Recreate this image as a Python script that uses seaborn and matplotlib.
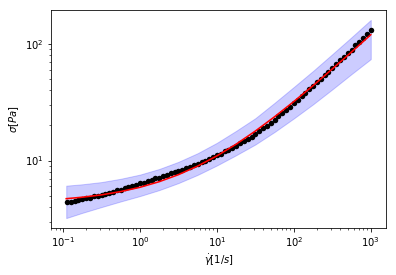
import numpy as np
import pandas as pd
import matplotlib
matplotlib.use("Agg")
import matplotlib.pyplot as plt
import seaborn as sns

# measured shear rates (log-spaced grid) and stresses
shear_rate = np.logspace(-0.95, 3.0, 80)
stress = [
    4.37, 4.41, 4.51, 4.60, 4.64, 4.75, 4.80, 4.93, 4.98, 5.10,
    5.17, 5.31, 5.39, 5.56, 5.64, 5.79, 5.90, 6.09, 6.20, 6.36,
    6.48, 6.69, 6.81, 7.02, 7.14, 7.36, 7.51, 7.75, 7.92, 8.14,
    8.33, 8.63, 8.84, 9.15, 9.35, 9.70, 9.97, 10.39, 10.66, 11.07,
    11.45, 11.98, 12.36, 12.92, 13.36, 14.08, 14.65, 15.43, 16.06, 16.93,
    17.80, 18.95, 19.93, 21.21, 22.30, 23.98, 25.38, 27.28, 28.85, 31.05,
    32.96, 35.65, 37.85, 40.95, 43.45, 47.10, 50.10, 54.35, 57.80, 62.70,
    66.80, 72.65, 77.40, 84.20, 89.70, 97.80, 104.2, 113.5, 121.0, 131.0,
]

# fitted curve and its confidence band
fit_rate = [0.11, 0.178, 0.316, 0.562, 1.0, 1.78, 3.16, 5.62, 10.0,
            17.8, 31.6, 56.2, 100.0, 178.0, 316.0, 562.0, 1000.0]
fit_stress = [4.71, 4.85, 5.08, 5.42, 5.90, 6.59, 7.57, 8.97, 10.97,
              13.83, 17.92, 23.76, 32.1, 44.0, 61.1, 85.4, 120.2]
band_upper = [6.09, 6.26, 6.54, 6.98, 7.58, 8.47, 9.75, 11.57, 14.2,
              18.0, 23.1, 31.3, 42.8, 58.8, 81.8, 114.4, 161.0]
band_lower = [3.21, 3.56, 3.99, 4.46, 4.96, 5.58, 6.41, 7.54, 9.08,
              11.12, 13.74, 17.6, 23.0, 30.4, 40.8, 55.2, 74.2]

data = pd.DataFrame({"rate": shear_rate, "stress": stress})
fit = pd.DataFrame({"rate": fit_rate, "stress": fit_stress,
                    "lo": band_lower, "hi": band_upper})

plt.rcParams["font.family"] = ["DejaVu Sans"]
fig = plt.figure(figsize=(396 / 72, 275 / 72), dpi=72)
ax = fig.add_axes([51 / 396, 47 / 275, 335 / 396, 218 / 275])

ax.fill_between(fit["rate"], fit["lo"], fit["hi"], color="blue",
                alpha=0.2, zorder=1)
sns.scatterplot(data=data, x="rate", y="stress", ax=ax, color="black",
                s=30, linewidth=0, zorder=2)
sns.lineplot(data=fit, x="rate", y="stress", ax=ax, color="red",
             linewidth=1.6, zorder=3)

ax.set_xscale("log")
ax.set_yscale("log")
ax.set_xlabel(r"$\dot{\gamma}[1/s]$")
ax.set_ylabel(r"$\sigma[Pa]$")

fig.savefig("out.png", dpi=72)
